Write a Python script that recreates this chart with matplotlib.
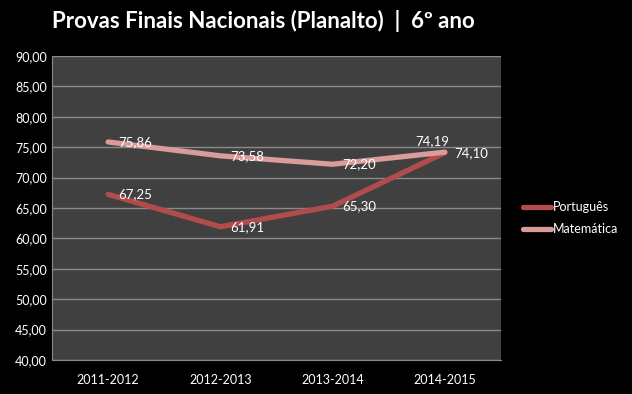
import matplotlib.pyplot as plt
from matplotlib.lines import Line2D

anos = ['2011-2012', '2012-2013', '2013-2014', '2014-2015']
portugues = [67.25, 61.91, 65.30, 74.10]
matematica = [75.86, 73.58, 72.20, 74.19]

cor_port = '#b24c4c'
cor_mat = '#d99b9b'

plt.rcParams['font.family'] = ['Lato', 'DejaVu Sans']

fig = plt.figure(figsize=(6.32, 3.94), dpi=100, facecolor='black')
ax = fig.add_axes([52 / 632, 34 / 394, 449 / 632, 304 / 394])
ax.set_facecolor('#404040')

x = range(len(anos))
ax.plot(x, portugues, color=cor_port, linewidth=3.8, solid_capstyle='round')
ax.plot(x, matematica, color=cor_mat, linewidth=3.8, solid_capstyle='round')

def fmt(v):
    return f'{v:.2f}'.replace('.', ',')

# rótulos de dados
for i, v in enumerate(portugues):
    ax.annotate(fmt(v), (i, v), xytext=(7, 0), textcoords='offset points',
                ha='left', va='center', color='white', fontsize=9.5)
for i, v in enumerate(matematica):
    if i == len(matematica) - 1:
        ax.annotate(fmt(v), (i, v), xytext=(-9, 8), textcoords='offset points',
                    ha='center', va='center', color='white', fontsize=9.5)
    else:
        ax.annotate(fmt(v), (i, v), xytext=(7, 0), textcoords='offset points',
                    ha='left', va='center', color='white', fontsize=9.5)

ax.set_xlim(-0.5, len(anos) - 0.5)
ax.set_ylim(40, 90)
ax.set_yticks(range(40, 91, 5))
ax.set_yticklabels([f'{t},00' for t in range(40, 91, 5)])
ax.set_xticks(list(x))
ax.set_xticklabels(anos)
ax.tick_params(colors='white', labelsize=9, length=0)
ax.tick_params(axis='x', pad=10)
ax.grid(axis='y', color='#8a8a8a', linewidth=1)
ax.set_axisbelow(True)
for s in ['top', 'right']:
    ax.spines[s].set_visible(False)
ax.spines['left'].set_color('#8a8a8a')
ax.spines['bottom'].set_color('#8a8a8a')

handles = [Line2D([0], [0], color=cor_port, linewidth=3.8, solid_capstyle='round'),
           Line2D([0], [0], color=cor_mat, linewidth=3.8, solid_capstyle='round')]
leg = fig.legend(handles, ['Português', 'Matemática'], loc='center left',
                 bbox_to_anchor=(512 / 632, 1 - 218 / 394), frameon=False,
                 fontsize=9, handlelength=2.2, handletextpad=0.2,
                 labelspacing=0.8)
for t in leg.get_texts():
    t.set_color('white')

fig.text(52 / 632, 1 - 21 / 394, 'Provas Finais Nacionais (Planalto)  |  6º ano',
         color='white', fontsize=16, fontweight='bold', va='center', ha='left')

fig.savefig('out.png', dpi=100, facecolor='black')
